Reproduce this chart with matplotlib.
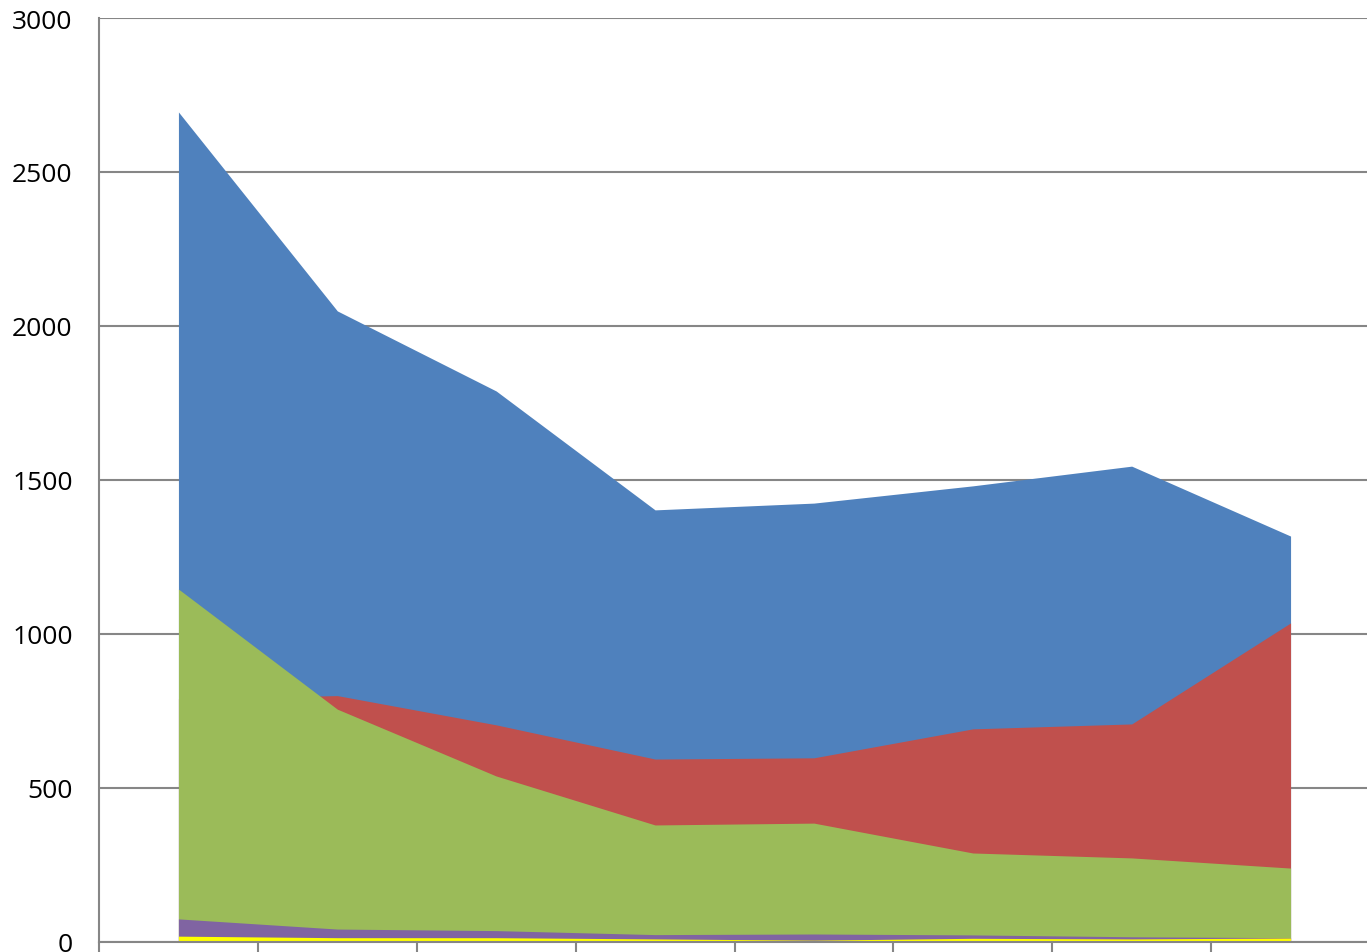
import matplotlib
matplotlib.use("Agg")
import matplotlib.pyplot as plt
import numpy as np

categories = ["1", "2", "3", "4", "5", "6", "7", "8"]
blue = [2695, 2049, 1789, 1403, 1425, 1481, 1545, 1318]
red = [790, 800, 705, 594, 598, 692, 708, 1036]
green = [1146, 756, 539, 380, 386, 289, 273, 240]
purple = [75, 42, 37, 24, 26, 23, 17, 14]
yellow = [19, 14, 14, 10, 6, 12, 10, 13]
yticks = [0, 500, 1000, 1500, 2000, 2500, 3000]

series = [
    (blue, "#4F81BD"),
    (red, "#C0504D"),
    (green, "#9BBB59"),
    (purple, "#8064A2"),
    (yellow, "#FFFF00"),
]

W, H = 1367, 953
fig = plt.figure(figsize=(W / 100, H / 100), dpi=100)
left, right, top, bottom = 99, 1370, 19, 943
ax = fig.add_axes([left / W, 1 - bottom / H, (right - left) / W, (bottom - top) / H])

x = np.arange(len(categories))
for vals, col in series:
    ax.fill_between(x, 0, vals, color=col, linewidth=0, zorder=3)

ax.set_xlim(-0.5, len(categories) - 0.5)
ax.set_ylim(0, 3000)
ax.set_yticks(yticks)
ax.set_yticklabels([str(v) for v in yticks], fontfamily="Open Sans", fontsize=19)
ax.tick_params(axis="y", length=0, pad=19)
ax.set_xticks(np.arange(len(categories) + 1) - 0.5)
ax.set_xticklabels([])
ax.tick_params(axis="x", length=10, width=1.5, color="#868686", direction="out")
ax.grid(axis="y", color="#868686", linewidth=1.5, zorder=1)
ax.set_axisbelow(True)
for s in ["top", "right"]:
    ax.spines[s].set_visible(False)
for s in ["left", "bottom"]:
    ax.spines[s].set_color("#868686")
    ax.spines[s].set_linewidth(1.5)
    ax.spines[s].set_zorder(5)

fig.savefig("out.png", dpi=100)
